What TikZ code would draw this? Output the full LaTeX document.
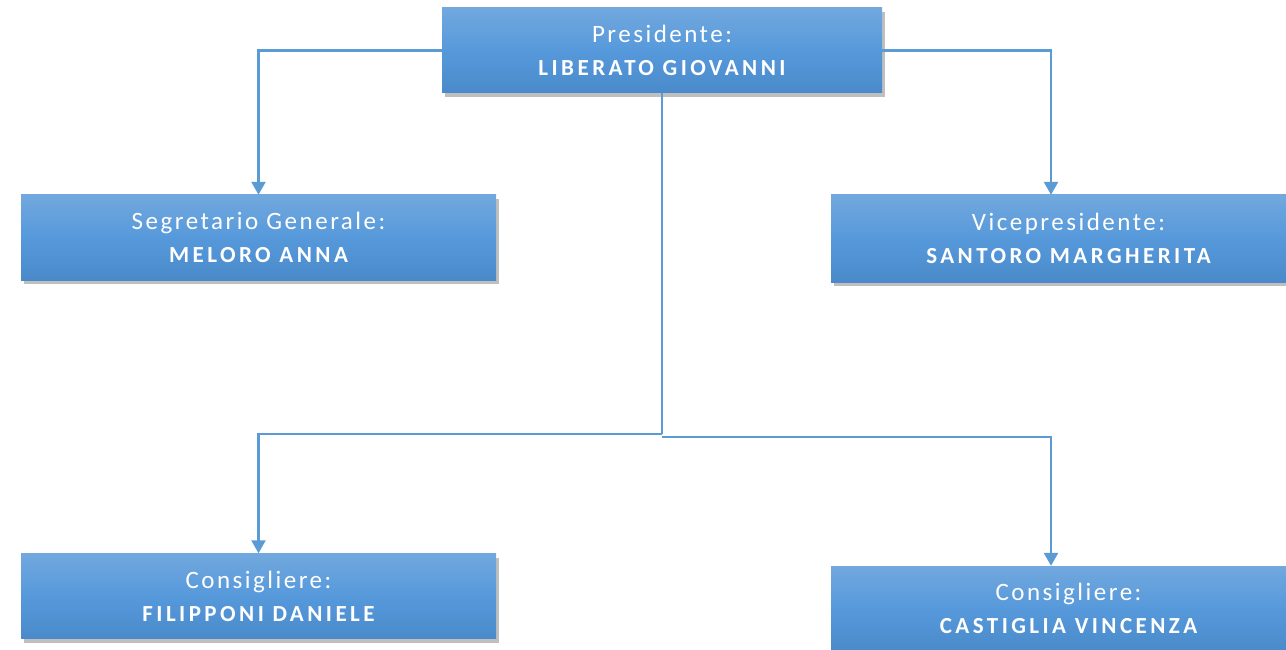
\documentclass[tikz,border=0pt]{standalone}
\usepackage{fontspec}
\setmainfont{Carlito}
\newfontfamily\lightf[LetterSpace=10]{Carlito}
\newfontfamily\boldf[LetterSpace=15]{Carlito Bold}
\usetikzlibrary{shadows,arrows.meta}
\definecolor{linec}{HTML}{5B9BD5}
\definecolor{boxtop}{HTML}{72A8DE}
\definecolor{boxmid}{HTML}{5699DB}
\definecolor{boxbot}{HTML}{4A8ACA}
\tikzset{
  orgbox/.style={rectangle, minimum width=475pt, minimum height=85pt, inner sep=0pt,
    top color=boxtop, bottom color=boxbot, middle color=boxmid, draw=none,
    drop shadow={shadow xshift=3pt, shadow yshift=-4pt, fill=black, opacity=0.25},
    text=white, align=center, font=\fontsize{23}{33}\selectfont},
  conn/.style={draw=linec, line width=2.5pt, -{Triangle[length=13pt,width=14pt]}},
  connp/.style={draw=linec, line width=2.5pt}
}
\newcommand{\rolet}[1]{{\fontsize{25}{33}\selectfont\lightf #1}}
\newcommand{\namet}[1]{{\boldf #1}}
\begin{document}
\begin{tikzpicture}[x=1pt,y=-1pt]
\useasboundingbox (0,0) rectangle (1286,650);
\clip (0,0) rectangle (1286,650);
\node[orgbox, minimum width=440pt] (pres) at (662,50.5) {\rolet{Presidente:}\\\namet{LIBERATO GIOVANNI}};
\node[orgbox] (segr) at (258.5,237.5) {\rolet{Segretario Generale:}\\\namet{MELORO ANNA}};
\node[orgbox, minimum height=87pt] (vice) at (1068.5,238.5) {\rolet{Vicepresidente:}\\\namet{SANTORO MARGHERITA}};
\node[orgbox] (fil) at (258.5,596) {\rolet{Consigliere:}\\\namet{FILIPPONI DANIELE}};
\node[orgbox] (cas) at (1068.5,608.5) {\rolet{Consigliere:}\\\namet{CASTIGLIA VINCENZA}};
\coordinate (j1) at (662,434);
\coordinate (j2) at (662,437);
\coordinate (va) at ([xshift=-17.5pt]vice.north);
\coordinate (ca) at ([xshift=-17.5pt]cas.north);
\draw[conn] (pres.west) -| (segr.north);
\draw[conn] (pres.east) -| (va);
\draw[connp] (pres.south) -- (j1);
\draw[conn] (j1) -| (fil.north);
\draw[conn] (j2) -| (ca);
\end{tikzpicture}
\end{document}
